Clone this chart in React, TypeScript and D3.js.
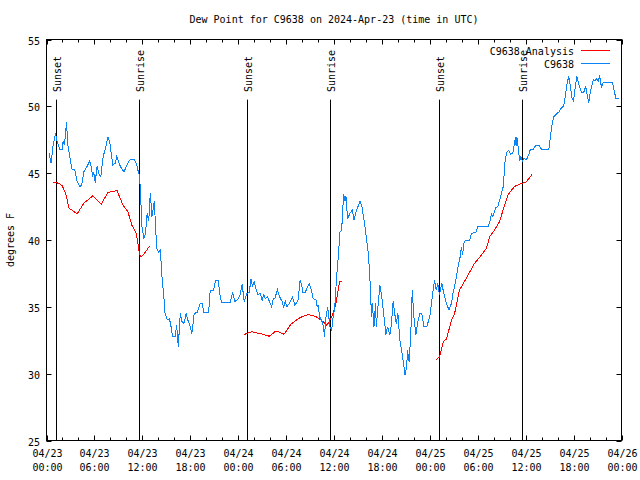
import { useRef, useEffect } from 'react';
import * as d3 from 'd3';

// hours after 2024-04-23 00:00 UTC
const obsHours = [
  0.29, 0.58, 0.83, 1.13, 1.33, 1.67, 1.96, 2.08, 2.25, 2.5, 2.7, 3.0, 3.2, 3.54, 3.83, 4.17, 4.4, 4.67,
  5.08, 5.4, 5.58, 5.8, 5.9, 6.1, 6.33, 6.6, 6.8, 7.1, 7.4, 7.7, 7.9, 8.1, 8.3, 8.6, 8.8, 9.0, 9.25, 9.7,
  10.0, 10.3, 10.6, 11.0, 11.3, 11.5, 11.66, 11.75, 11.96, 12.2, 12.4, 12.6, 12.8, 13.0, 13.2, 13.4, 13.5,
  13.7, 13.8, 14.0, 14.25, 14.5, 14.7, 14.8, 15.1, 15.4, 15.6, 15.8, 16.1, 16.3, 16.5, 16.75, 16.96, 17.2,
  17.5, 17.7, 17.9, 18.2, 18.5, 18.9, 19.25, 19.5, 19.7, 20.3, 20.5, 20.9, 21.2, 21.5, 21.75, 21.96, 23.0,
  23.3, 23.6, 24.0, 24.25, 24.5, 24.75, 25.1, 25.4, 25.6, 25.8, 26.0, 26.25, 26.5, 26.75, 27.0, 27.2, 27.4,
  27.7, 27.9, 28.2, 28.4, 28.6, 28.9, 29.2, 29.5, 29.7, 29.9, 30.1, 30.4, 30.8, 31.1, 31.5, 31.75, 31.96,
  32.1, 32.4, 32.7, 32.9, 33.1, 33.4, 33.75, 33.9, 34.0, 34.2, 34.5, 34.7, 34.8, 35.0, 35.2, 35.3, 35.5,
  35.7, 35.9, 36.1, 36.3, 36.5, 36.75, 36.96, 37.2, 37.4, 37.5, 37.7, 38.0, 38.3, 38.5, 38.75, 39.0, 39.25,
  39.5, 39.9, 40.3, 40.5, 40.7, 40.8, 41.0, 41.2, 41.3, 41.5, 41.75, 41.96, 42.2, 42.5, 42.7, 43.0, 43.2,
  43.4, 43.6, 43.8, 44.0, 44.25, 44.5, 44.7, 44.9, 45.1, 45.2, 45.4, 45.6, 45.8, 46.0, 46.25, 46.5, 46.75,
  47.0, 47.25, 47.6, 48.0, 48.3, 48.6, 48.8, 49.0, 49.2, 49.5, 49.75, 50.0, 50.4, 50.7, 50.9, 51.25, 51.5,
  51.8, 51.96, 52.1, 52.25, 52.5, 53.0, 53.2, 53.75, 54.0, 55.3, 55.6, 55.7, 55.9, 56.25, 56.5, 56.75,
  56.96, 57.2, 57.4, 57.6, 57.9, 58.1, 58.4, 58.6, 58.75, 58.8, 58.9, 59.1, 59.25, 59.4, 59.6, 59.75, 60.1,
  60.4, 60.6, 60.9, 61.1, 61.3, 61.7, 61.96, 62.9, 63.1, 63.3, 63.5, 63.8, 64.2, 64.5, 64.75, 64.96, 65.2,
  65.4, 65.6, 65.8, 66.0, 66.2, 66.4, 66.6, 66.8, 67.0, 67.25, 67.5, 67.7, 67.9, 68.1, 68.3, 68.5, 68.7,
  68.9, 69.1, 69.25, 69.5, 69.7, 70.9, 71.1, 71.3, 71.7,
];
const obsDewpt = [
  46.55, 45.75, 47.1, 48.0, 47.4, 46.75, 46.75, 47.4, 47.1, 48.8, 47.0, 45.9, 45.3, 45.25, 44.4, 44.0, 44.1, 45.1,
  45.5, 45.9, 45.5, 44.75, 45.1, 44.3, 45.5, 44.9, 44.75, 46.25, 46.9, 47.7, 47.4, 46.5, 45.6, 45.75, 46.25, 45.9, 45.5, 45.1,
  45.5, 45.9, 46.05, 46.05, 45.6, 45.1, 44.75, 43.75, 41.0, 40.1, 40.5, 42.0, 41.4, 43.5, 41.75, 42.5, 42.9,
  40.5, 39.4, 39.1, 39.25, 36.9, 35.75, 34.6, 34.05, 34.1, 33.5, 32.75, 32.75, 33.6, 32.0, 34.5, 33.9, 33.75,
  34.5, 34.0, 33.75, 33.0, 34.5, 34.6, 35.25, 35.25, 34.6, 34.6, 36.25, 36.25, 37.0, 37.0, 35.75, 35.3, 35.3,
  36.1, 35.4, 35.6, 35.9, 36.7, 35.4, 36.0, 36.1, 37.1, 36.5, 36.9, 36.3, 35.9, 36.0, 35.5, 35.9, 35.6,
  35.75, 35.4, 35.0, 35.6, 35.6, 36.3, 35.75, 35.4, 35.0, 35.4, 35.0, 35.25, 35.75, 35.1, 35.5, 37.0, 36.6,
  36.1, 36.1, 36.5, 36.75, 36.4, 35.6, 35.5, 35.0, 35.1, 34.25, 33.9, 33.5, 32.75, 34.25, 35.0, 34.5, 33.5,
  33.25, 34.25, 35.0, 37.0, 38.5, 40.6, 40.75, 43.4, 42.9, 43.25, 41.6, 42.0, 42.25, 41.5, 42.1, 42.5, 42.9,
  42.5, 40.9, 39.0, 37.1, 34.25, 35.25, 33.5, 35.25, 33.5, 35.0, 36.6, 35.9, 34.6, 32.9, 33.5, 32.9, 33.75,
  35.4, 34.5, 33.75, 34.5, 32.5, 31.6, 30.75, 29.9, 30.5, 31.75, 30.9, 32.75, 36.25, 34.25, 32.9, 33.9, 34.5,
  34.5, 33.5, 33.5, 34.25, 35.75, 37.0, 36.25, 36.75, 35.9, 36.75, 36.0, 35.4, 34.75, 35.25, 36.0, 37.0, 37.9,
  38.75, 39.5, 38.9, 39.75, 40.0, 40.0, 40.5, 40.55, 41.0, 41.0, 41.5, 41.95, 41.75, 42.4, 42.5, 43.0,
  43.5, 44.0, 45.75, 46.55, 46.7, 46.4, 46.5, 47.25, 47.7, 47.0, 47.7, 46.75, 45.9, 46.25, 45.9, 46.1, 46.0,
  46.4, 46.8, 46.75, 46.95, 47.1, 47.05, 46.8, 46.8, 47.75, 48.6, 49.2, 49.4, 49.6, 49.9, 50.0, 50.75, 51.75,
  52.25, 51.5, 50.6, 50.4, 51.4, 52.25, 51.75, 51.4, 51.0, 51.0, 51.5, 50.9, 50.25, 51.1, 51.6, 52.0, 51.9,
  52.1, 51.9, 52.3, 51.4, 51.75, 51.75, 51.1, 50.6, 50.55,
];

// analysis runs, three separate pieces
const anaHours1 = [0.79, 1.5, 1.96, 2.4, 2.8, 3.83, 4.67, 5.8, 6.83, 7.7, 8.83, 9.58, 10.2, 10.7, 11.25, 11.66, 11.875, 12.4, 12.9];
const anaDewpt1 = [44.33, 44.25, 44.07, 43.5, 42.4, 41.95, 42.75, 43.3, 42.67, 43.55, 43.7, 42.6, 42.1, 41.1, 40.5, 38.9, 38.75, 39.1, 39.55];
const anaHours2 = [24.75, 25.7, 26.75, 27.9, 28.75, 29.75, 30.6, 31.75, 32.8, 33.8, 34.7, 35.1, 35.5, 35.8, 36.25, 36.7, 36.96];
const anaDewpt2 = [32.93, 33.13, 33.0, 32.8, 33.2, 32.95, 33.7, 34.2, 34.43, 34.25, 33.87, 33.6, 34.0, 34.4, 35.25, 36.9, 36.9];
const anaHours3 = [48.75, 49.2, 49.7, 50.1, 50.7, 51.1, 51.7, 52.2, 52.9, 53.6, 54.5, 55.1, 55.5, 56.1, 56.75, 57.25, 57.8, 58.6, 59.5, 60.0, 60.8];
const anaDewpt3 = [31.0, 31.25, 32.4, 32.6, 34.0, 34.5, 36.25, 36.75, 37.5, 38.25, 38.9, 39.4, 40.25, 40.75, 41.4, 42.4, 43.4, 44.0, 44.25, 44.3, 44.9];

const sunHours = [1.16, 11.6, 25.16, 35.54, 49.16, 59.54];
const sunLabels = ['Sunset', 'Sunrise', 'Sunset', 'Sunrise', 'Sunset', 'Sunrise'];

const yTicks = [25, 30, 35, 40, 45, 50, 55];

const t0 = Date.UTC(2024, 3, 23);
const hr = (h: number) => new Date(t0 + h * 3600e3);
const FONT = '"DejaVu Sans Mono", monospace';
const BLUE = '#0a84f5';

const App = () => {
  const ref = useRef<SVGSVGElement>(null);

  useEffect(() => {
    if (!ref.current) return;
    const svg = d3.select(ref.current);
    svg.selectAll('*').remove();

    const x = d3.scaleUtc().domain([hr(0), hr(72)]).range([46.5, 621.5]);
    const y = d3.scaleLinear().domain([25, 55]).range([440.5, 39.5]);
    const [x0, x1] = x.range();
    const [yb, yt] = y.range();

    svg.append('rect').attr('width', 640).attr('height', 480).attr('fill', '#fff');

    svg.append('text')
      .attr('x', (x0 + x1) / 2).attr('y', 23)
      .attr('text-anchor', 'middle')
      .text('Dew Point for C9638 on 2024-Apr-23 (time in UTC)');

    // y ticks, both sides
    yTicks.forEach((v) => {
      const py = Math.round(y(v)) + 0.5;
      svg.append('line').attr('x1', x0).attr('x2', x0 + 5).attr('y1', py).attr('y2', py).attr('stroke', '#000');
      svg.append('line').attr('x1', x1).attr('x2', x1 - 5).attr('y1', py).attr('y2', py).attr('stroke', '#000');
      svg.append('text').attr('x', 40).attr('y', py + 4).attr('text-anchor', 'end').text(v);
    });

    // x ticks every 2h, labels every 6h
    d3.range(0, 73, 2).forEach((h) => {
      const px = Math.round(x(hr(h))) + 0.5;
      const len = h % 6 === 0 ? 5 : 3;
      svg.append('line').attr('x1', px).attr('x2', px).attr('y1', yb).attr('y2', yb - len).attr('stroke', '#000');
      svg.append('line').attr('x1', px).attr('x2', px).attr('y1', yt).attr('y2', yt + len).attr('stroke', '#000');
      if (h % 6 === 0) {
        const d = hr(h);
        const t = svg.append('text').attr('x', px).attr('text-anchor', 'middle');
        t.append('tspan').attr('x', px).attr('y', 457).text(d3.utcFormat('%m/%d')(d));
        t.append('tspan').attr('x', px).attr('y', 471).text(d3.utcFormat('%H:%M')(d));
      }
    });

    svg.append('text')
      .attr('transform', 'translate(14,240) rotate(-90)')
      .attr('text-anchor', 'middle')
      .text('degrees F');

    // sunrise / sunset markers
    sunHours.forEach((h, i) => {
      const px = Math.round(x(hr(h))) + 0.5;
      svg.append('line').attr('x1', px).attr('x2', px).attr('y1', y(25 + 30 * 0.85)).attr('y2', yb)
        .attr('stroke', '#000');
      svg.append('text')
        .attr('transform', `translate(${px + 4},92) rotate(-90)`)
        .text(sunLabels[i]);
    });

    const line = d3.line<[number, number]>()
      .x((d) => x(hr(d[0])))
      .y((d) => y(d[1]));

    const ana = [
      d3.zip(anaHours1, anaDewpt1),
      d3.zip(anaHours2, anaDewpt2),
      d3.zip(anaHours3, anaDewpt3),
    ] as [number, number][][];
    ana.forEach((seg) => {
      svg.append('path').attr('d', line(seg)).attr('fill', 'none').attr('stroke', '#ff0000')
        .attr('stroke-width', 1).attr('shape-rendering', 'crispEdges');
    });

    const obs = d3.zip(obsHours, obsDewpt) as [number, number][];
    svg.append('path').attr('d', line(obs)).attr('fill', 'none').attr('stroke', BLUE)
      .attr('stroke-width', 1).attr('shape-rendering', 'crispEdges');

    // legend
    const legend = [
      { name: 'C9638 Analysis', color: '#ff0000', py: 50.5 },
      { name: 'C9638', color: BLUE, py: 63.5 },
    ];
    legend.forEach((l) => {
      svg.append('text').attr('x', 574).attr('y', l.py + 4).attr('text-anchor', 'end').text(l.name);
      svg.append('line').attr('x1', 581).attr('x2', 610).attr('y1', l.py).attr('y2', l.py).attr('stroke', l.color);
    });

    // frame
    svg.append('rect')
      .attr('x', x0).attr('y', yt).attr('width', x1 - x0).attr('height', yb - yt)
      .attr('fill', 'none').attr('stroke', '#000');
  }, []);

  return (
    <svg
      ref={ref}
      width={640}
      height={480}
      style={{ position: 'absolute', left: 0, top: 0, fontFamily: FONT, fontSize: 10 }}
    />
  );
};

export default App;
